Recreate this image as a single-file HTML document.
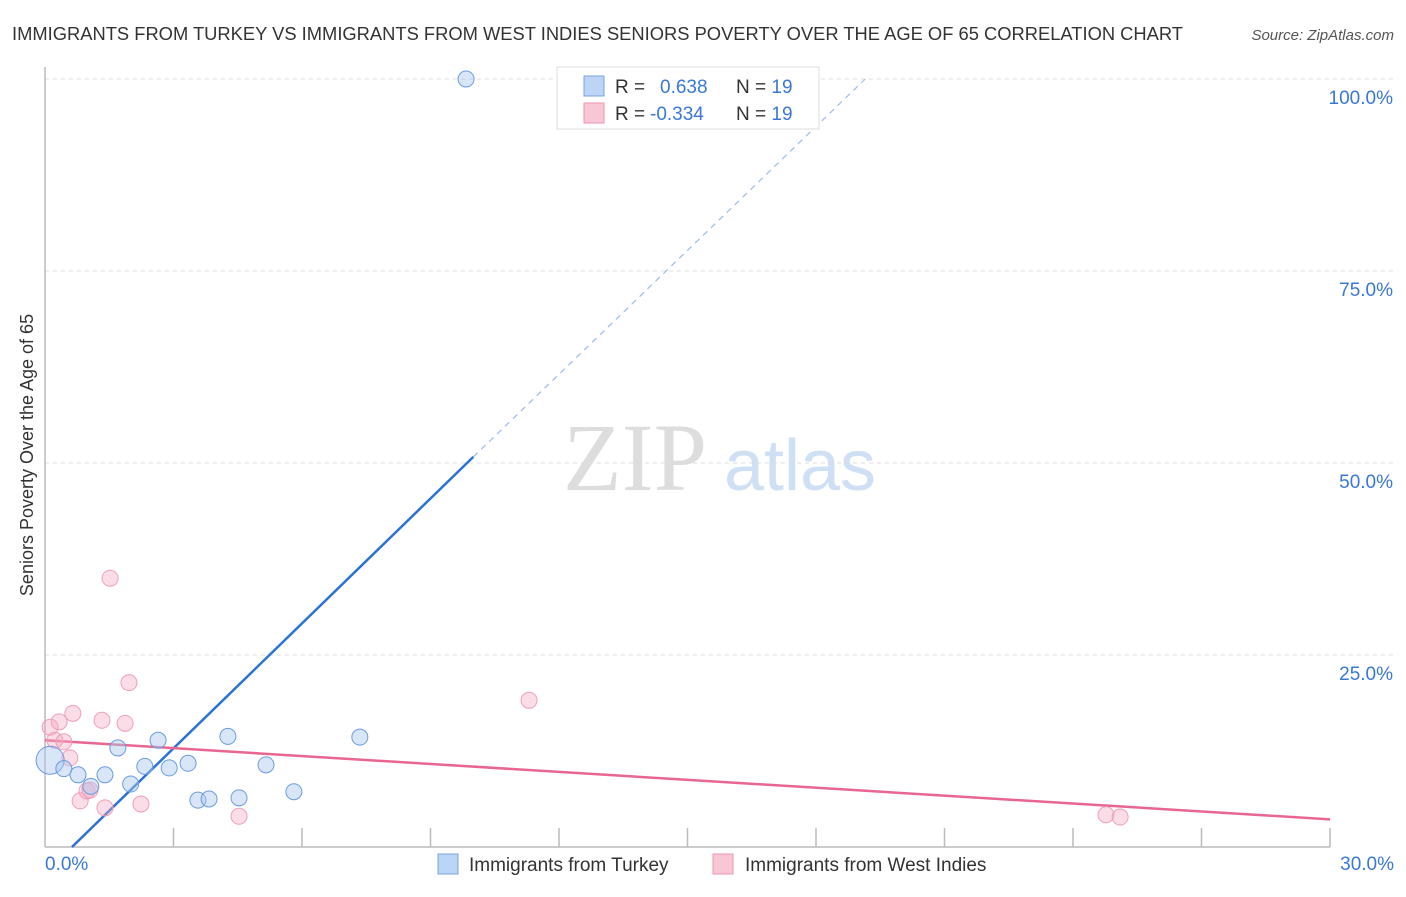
<!DOCTYPE html>
<html><head><meta charset="utf-8"><style>
body{margin:0;background:#fff;font-family:"Liberation Sans",sans-serif}
</style></head><body>
<svg id="chart" width="1406" height="892" xmlns="http://www.w3.org/2000/svg">
<text x="12" y="40" font-size="18" fill="#333" textLength="1171" lengthAdjust="spacingAndGlyphs">IMMIGRANTS FROM TURKEY VS IMMIGRANTS FROM WEST INDIES SENIORS POVERTY OVER THE AGE OF 65 CORRELATION CHART</text>
<text x="1394" y="40" font-size="15" fill="#555" font-style="italic" text-anchor="end">Source: ZipAtlas.com</text>
<text transform="translate(33,455) rotate(-90)" font-size="18" fill="#333" text-anchor="middle">Seniors Poverty Over the Age of 65</text>
<g><text x="635" y="490" font-size="96" font-family="Liberation Serif,serif" fill="#ddd" text-anchor="middle">ZIP</text><text x="800" y="490" font-size="72" fill="#cfe0f5" text-anchor="middle">atlas</text></g>
<g id="grid"></g><g id="axes"></g><g id="lines"></g><g id="points"></g>
<g>
<rect x="557" y="67" width="262" height="62" fill="#fff" stroke="#ddd"/>
<rect x="584" y="76" width="20" height="20" fill="#bcd4f5" stroke="#7aa5e0"/>
<rect x="584" y="103" width="20" height="20" fill="#f9c6d5" stroke="#ee97b2"/>
<text x="615" y="93" font-size="19" fill="#333">R = <tspan x="660" fill="#3a78d8">0.638</tspan><tspan x="736">N = </tspan><tspan fill="#3a78d8">19</tspan></text>
<text x="615" y="120" font-size="19" fill="#333">R = <tspan x="650" fill="#3a78d8">-0.334</tspan><tspan x="736">N = </tspan><tspan fill="#3a78d8">19</tspan></text>
</g>
<g>
<rect x="438" y="854" width="20" height="20" fill="#bcd4f5" stroke="#7aa5e0"/>
<text x="469" y="871" font-size="19" fill="#333">Immigrants from Turkey</text>
<rect x="713" y="854" width="20" height="20" fill="#f9c6d5" stroke="#ee97b2"/>
<text x="745" y="871" font-size="19" fill="#333">Immigrants from West Indies</text>
</g>
</svg>
<script>
const blueX=[9.83,0.12,0.44,0.77,1.07,1.4,1.7,2.0,2.33,2.64,2.9,3.34,3.57,3.83,4.27,4.53,5.16,5.81,7.35];
const blueY=[100,11.3,10.2,9.4,7.9,9.4,12.9,8.2,10.5,13.9,10.3,10.9,6.1,6.25,14.4,6.4,10.7,7.2,14.3];
const pinkX=[0.12,0.23,0.33,0.44,0.58,0.65,0.82,0.98,1.05,1.33,1.4,1.52,1.87,1.96,2.24,4.53,11.3,24.77,25.1];
const pinkY=[15.6,13.9,16.3,13.7,11.6,17.4,6.0,7.3,7.4,16.5,5.1,35.0,16.1,21.4,5.6,4.0,19.1,4.2,3.9];
const xTicks=[0,3,6,9,12,15,18,21,24,27,30];
const yTicks=[25,50,75,100];
const blueLine=[0.63,0,10,50.8,19.15,100];
const pinkLine=[0,13.9,30,3.6];
const X=v=>45+v*(1330-45)/30, Y=v=>847-v*7.68;
const NS="http://www.w3.org/2000/svg";
function mk(p,t,a){const e=document.createElementNS(NS,t);for(const k in a)e.setAttribute(k,a[k]);document.getElementById(p).appendChild(e);return e;}
yTicks.forEach(t=>{
 const l=mk('grid','line',{x1:45,x2:1394,y1:Y(t),y2:Y(t),stroke:'#ddd','stroke-dasharray':'4,4'});
 
 
 const s=mk('grid','text',{x:1393,y:Y(t)+25,'font-size':19,fill:'#3a78d8','text-anchor':'end'});s.textContent=t.toFixed(1)+'%';
 
 
});
mk('axes','line',{x1:45,x2:45,y1:67,y2:847,stroke:'#bbb','stroke-width':1.5});
mk('axes','line',{x1:45,x2:1330,y1:847,y2:847,stroke:'#bbb','stroke-width':1.5});
xTicks.forEach(t=>{if(t>0){const l=mk('axes','line',{x1:X(t),x2:X(t),y1:828,y2:847,stroke:'#bbb','stroke-width':1.5});
 
 }});
[[0,'start',45],[30,'end',1394]].forEach(([t,a,x])=>{const s=mk('axes','text',{x:x,y:870,'font-size':19,fill:'#3a78d8','text-anchor':a});s.textContent=t.toFixed(1)+'%';
 
 });
let b=mk('lines','line',{x1:X(blueLine[0]),y1:Y(blueLine[1]),x2:X(blueLine[2]),y2:Y(blueLine[3]),stroke:'#2a72d8','stroke-width':2.5});


let bd=mk('lines','line',{x1:X(blueLine[2]),y1:Y(blueLine[3]),x2:X(blueLine[4]),y2:Y(blueLine[5]),stroke:'#9bbce8','stroke-width':1.2,'stroke-dasharray':'6,5'});


let p=mk('lines','line',{x1:X(pinkLine[0]),y1:Y(pinkLine[1]),x2:X(pinkLine[2]),y2:Y(pinkLine[3]),stroke:'#e8668f','stroke-width':2.5});


pinkX.forEach((x,i)=>{const c=mk('points','circle',{cx:X(x),cy:Y(pinkY[i]),r:8,fill:'rgba(246,170,195,0.4)',stroke:'#eea0b8','stroke-width':1});
 
 });
blueX.forEach((x,i)=>{const c=mk('points','circle',{cx:X(x),cy:Y(blueY[i]),r:i==1?14:8,fill:'rgba(170,200,240,0.45)',stroke:'#6b9be0','stroke-width':1});
 
 });
</script>
</body></html>
